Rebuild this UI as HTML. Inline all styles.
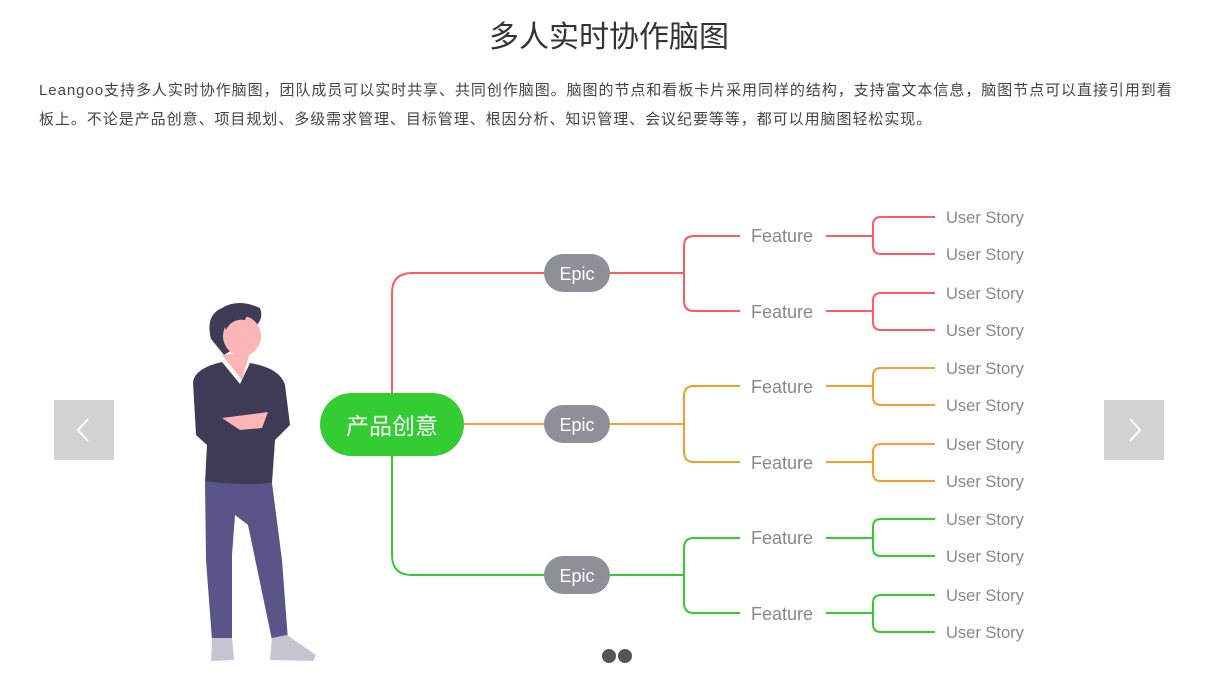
<!DOCTYPE html>
<html><head><meta charset="utf-8"><style>
body{margin:0;width:1212px;height:685px;background:#fff;overflow:hidden;font-family:"Liberation Sans","Noto Sans CJK SC",sans-serif;}
h1{position:absolute;top:12px;left:0;width:1218px;text-align:center;margin:0;font-weight:normal;font-size:30px;color:#333;}
p{position:absolute;top:76px;left:39px;width:1140px;margin:0;font-size:15px;line-height:29px;color:#444;letter-spacing:0.95px;}
.arr{position:absolute;top:400px;width:60px;height:60px;background:#d2d2d2;}
</style></head><body>
<h1>多人实时协作脑图</h1>
<p>Leangoo支持多人实时协作脑图，团队成员可以实时共享、共同创作脑图。脑图的节点和看板卡片采用同样的结构，支持富文本信息，脑图节点可以直接引用到看板上。不论是产品创意、项目规划、多级需求管理、目标管理、根因分析、知识管理、会议纪要等等，都可以用脑图轻松实现。</p>
<div class="arr" style="left:54px"><svg width="60" height="60"><polyline points="34,19 24,30 34,41" fill="none" stroke="#fff" stroke-width="2"/></svg></div>
<div class="arr" style="left:1104px"><svg width="60" height="60"><polyline points="26,19 36,30 26,41" fill="none" stroke="#fff" stroke-width="2"/></svg></div>
<svg width="1212" height="685" style="position:absolute;left:0;top:0" font-family="Liberation Sans, Noto Sans CJK SC, sans-serif">
<g fill="none" stroke-width="2">
<path d="M392 393 V293 Q392 273 412 273 H544" stroke="#ff5a65"/>
<path d="M464 424 H544" stroke="#f0a030"/>
<path d="M392 456 V555 Q392 575 412 575 H544" stroke="#33cc33"/>
</g>
<rect x="320" y="393" width="144" height="63" rx="31.5" fill="#33cc33"/>
<text x="392" y="434" font-size="23" fill="#fff" text-anchor="middle">产品创意</text>
<g fill="#8e9097"><rect x="544" y="254" width="66" height="38" rx="19"/><rect x="544" y="405" width="66" height="38" rx="19"/><rect x="544" y="556" width="66" height="38" rx="19"/></g>
<g fill="#fff" font-size="18" text-anchor="middle"><text x="577" y="280">Epic</text><text x="577" y="431">Epic</text><text x="577" y="582">Epic</text></g>
<g fill="none" stroke-width="2">
<g stroke="#ff5a65"><path d="M610 273 H684 M740 236 H694 Q684 236 684 246 V301 Q684 311 694 311 H740"/>
<path d="M826 236 H873 M935 217 H881 Q873 217 873 225 V246 Q873 254 881 254 H935"/>
<path d="M826 311 H873 M935 293 H881 Q873 293 873 301 V322 Q873 330 881 330 H935"/></g>
<g stroke="#f0a030"><path d="M610 424 H684 M740 386 H694 Q684 386 684 396 V452 Q684 462 694 462 H740"/>
<path d="M826 386 H873 M935 368 H881 Q873 368 873 376 V397 Q873 405 881 405 H935"/>
<path d="M826 462 H873 M935 444 H881 Q873 444 873 452 V473 Q873 481 881 481 H935"/></g>
<g stroke="#33cc33"><path d="M610 575 H684 M740 538 H694 Q684 538 684 548 V603 Q684 613 694 613 H740"/>
<path d="M826 538 H873 M935 519 H881 Q873 519 873 527 V548 Q873 556 881 556 H935"/>
<path d="M826 613 H873 M935 595 H881 Q873 595 873 603 V624 Q873 632 881 632 H935"/></g>
</g>
<g fill="#888" font-size="18"><text x="751" y="242">Feature</text><text x="751" y="318">Feature</text><text x="751" y="393">Feature</text><text x="751" y="469">Feature</text><text x="751" y="544">Feature</text><text x="751" y="620">Feature</text></g>
<g fill="#888" font-size="16.5"><text x="946" y="223">User Story</text><text x="946" y="260">User Story</text><text x="946" y="299">User Story</text><text x="946" y="336">User Story</text><text x="946" y="374">User Story</text><text x="946" y="411">User Story</text><text x="946" y="450">User Story</text><text x="946" y="487">User Story</text><text x="946" y="525">User Story</text><text x="946" y="562">User Story</text><text x="946" y="601">User Story</text><text x="946" y="638">User Story</text></g>
<path d="M211 339 Q205 315 222 308 Q238 298 260 308 Q264 318 256 326 L240 345 L224 355 Z" fill="#3f3a56"/>
<ellipse cx="242" cy="336" rx="19" ry="20" fill="#fdb5b5"/>
<path d="M222 316 Q230 306 250 310 L245 320 Q232 318 226 330 Z" fill="#3f3a56"/>
<path d="M222 355 L250 352 L242 380 Z" fill="#fdb5b5"/>
<path d="M193 382 Q195 368 222 362 L240 384 L250 363 Q280 368 285 385 L290 425 L275 440 L272 483 Q240 487 205 483 L207 445 L196 435 Z" fill="#3f3a56"/>
<path d="M222 418 L268 412 L262 428 L240 430 Z" fill="#fdb5b5"/>
<path d="M205 481 Q240 486 272 483 L282 560 L288 640 L272 640 L248 525 L235 515 L232 555 L232 640 L212 640 L206 560 Z" fill="#5a5588"/>
<path d="M212 638 L232 638 L234 660 L211 661 Z" fill="#c4c5d0"/>
<path d="M272 638 L287 635 L316 655 L313 661 L270 660 Z" fill="#c4c5d0"/>
<circle cx="609" cy="656" r="7" fill="#555"/><circle cx="625" cy="656" r="7" fill="#555"/>
</svg>
</body></html>
